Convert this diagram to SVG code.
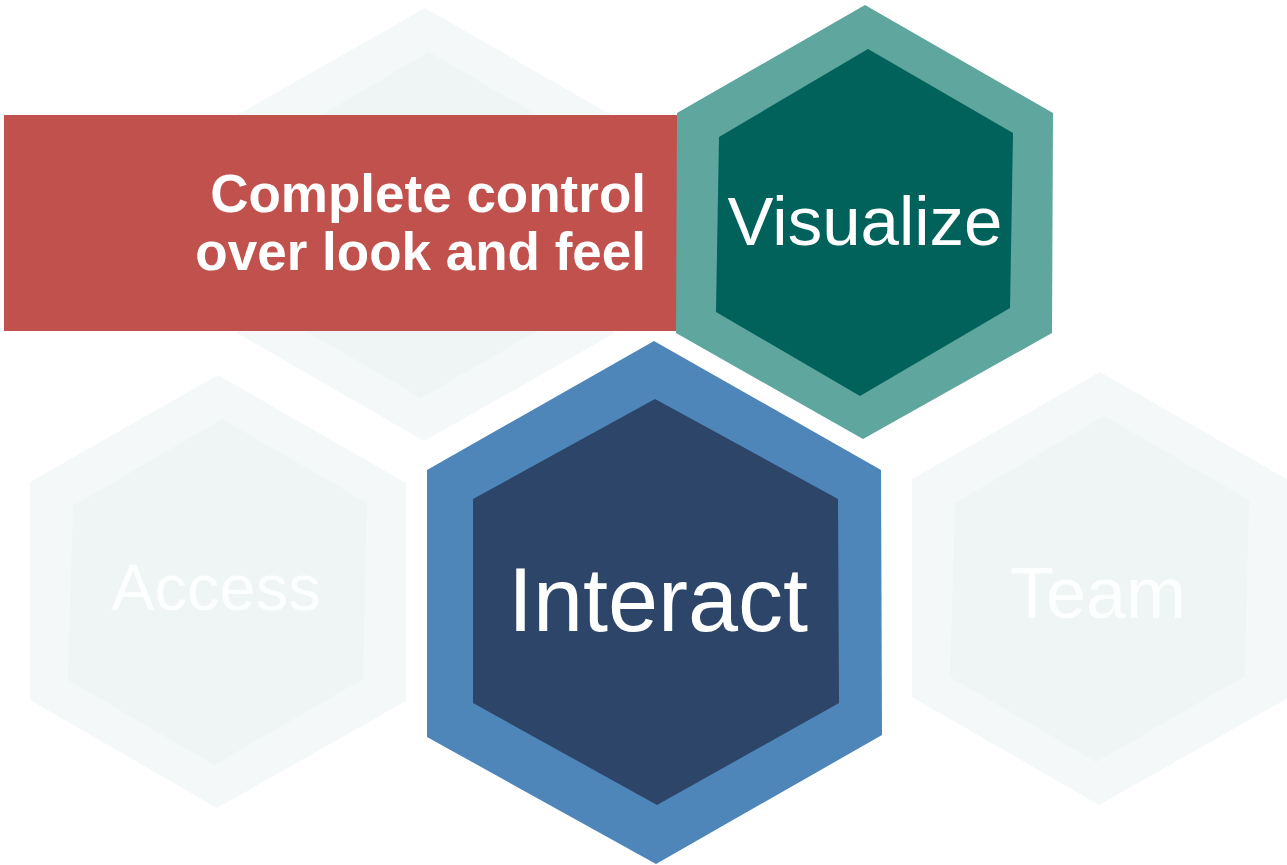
<svg xmlns="http://www.w3.org/2000/svg" xmlns:xlink="http://www.w3.org/1999/xlink" width="1287" height="865" viewBox="0 0 1287 865">
<style>
.fo{fill:#f4f8f8}
.fi{fill:#eff4f4}
.ft{font-family:"Liberation Sans",Arial,sans-serif;fill:#fdfefe;text-anchor:middle}
.lbl{font-family:"Liberation Sans",Arial,sans-serif;fill:#ffffff;text-anchor:middle}
.cap{font-family:"Liberation Sans",Arial,sans-serif;font-weight:bold;font-size:53px;fill:#ffffff;text-anchor:end}
</style>
<defs>
<g id="fhex">
<polygon class="fo" points="0,0 188,108 188,326 -1,433 -188,325 -188,107"/>
<polygon class="fi" points="4,44 149,128 145,304 -4,390 -150,305 -145,131"/>
</g>
</defs>
<rect width="1287" height="865" fill="#ffffff"/>
<g id="node-top-faded">
<use href="#fhex" xlink:href="#fhex" transform="translate(425,8)"/>
</g>
<g id="node-access">
<use href="#fhex" xlink:href="#fhex" transform="translate(218,375)"/>
<text class="ft" x="216" y="610" font-size="65">Access</text>
</g>
<g id="node-team">
<use href="#fhex" xlink:href="#fhex" transform="translate(1100,372)"/>
<text class="ft" x="1098" y="618" font-size="72">Team</text>
</g>
<g id="node-callout">
<rect x="4" y="115" width="674" height="216" fill="#c0514d"/>
<text class="cap" x="646" y="212">Complete control</text>
<text class="cap" x="646" y="270">over look and feel</text>
</g>
<g id="node-visualize">
<polygon fill="#5ea69e" points="865,5 1053,113 1052,333 863,439 676,333 677,113"/>
<polygon fill="#00625a" points="868,49 1013,133 1010,308 860,396 716,312 719,137"/>
<text class="lbl" x="865" y="245" font-size="69">Visualize</text>
</g>
<g id="node-interact">
<polygon fill="#4f86b9" points="654,341 881,470 882,735 656,864 427,737 427,470"/>
<polygon fill="#2c4569" points="655,399 838,499 839,703 657,805 473,703 473,499"/>
<text class="lbl" x="658" y="631" font-size="90">Interact</text>
</g>
<g id="connectors"></g>
</svg>
